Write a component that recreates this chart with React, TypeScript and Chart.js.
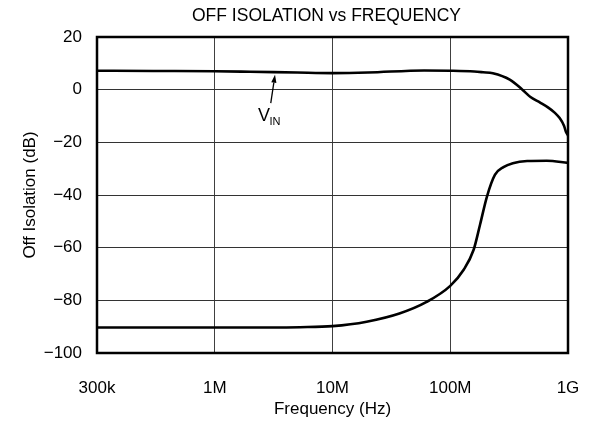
import React, { useEffect, useRef } from "react";
import { Chart, registerables } from "chart.js";

Chart.register(...registerables);

// ---- Data ----
const TITLE = "OFF ISOLATION vs FREQUENCY";
const X_TITLE = "Frequency (Hz)";
const Y_TITLE = "Off Isolation (dB)";

const X_TICKS = [1e5, 1e6, 1e7, 1e8, 1e9];
const X_TICK_LABELS = ["300k", "1M", "10M", "100M", "1G"];
const Y_MIN = -100;
const Y_MAX = 20;
const Y_STEP = 20;

// V_IN curve (upper)
const VIN_FREQ = [1e5, 3e5, 1e6, 2e6, 5e6, 1e7, 2e7, 6e7, 1e8, 1.6e8, 1.9e8, 2.3e8, 3.2e8, 4.1e8, 4.8e8, 5.8e8, 6.8e8, 7.7e8, 8.5e8, 9.25e8, 9.6e8, 1e9];
const VIN_DB = [7.2, 7.1, 7.0, 6.8, 6.5, 6.3, 6.5, 7.3, 7.2, 6.9, 6.6, 6.2, 3.8, 0, -2.8, -4.9, -6.8, -8.7, -10.8, -13.7, -16.0, -17.4];

// Off-isolation curve (lower)
const ISO_FREQ = [1e5, 1e6, 3e6, 5.3e6, 1e7, 1.95e7, 3.7e7, 6.3e7, 1e8, 1.3e8, 1.58e8, 1.79e8, 2.05e8, 2.4e8, 2.83e8, 3.4e8, 4.5e8, 6.6e8, 1e9];
const ISO_DB = [-90.3, -90.3, -90.3, -90.2, -89.8, -88.1, -85.0, -80.6, -74.5, -68.4, -60.8, -51.3, -40.6, -32.3, -29.4, -27.9, -27.1, -27.0, -27.8];

// Annotation (data coordinates)
const ARROW_TIP = { f: 3.25e6, db: 5.7 };
const ARROW_TAIL = { f: 2.99e6, db: -5.1 };
const LABEL_POS = { f: 2.33e6, db: -12.0 };
const LABEL_MAIN = "V";
const LABEL_SUB = "IN";

const FONT_FAMILY = "'Liberation Sans', Arial, Helvetica, sans-serif";
const FONT_SIZE = 17;
const TITLE_SIZE = 17.5;

const frameAndLabelPlugin = {
  id: "frameAndLabel",
  afterDatasetsDraw(chart: any) {
    const { ctx, chartArea, scales } = chart;
    const xs = scales.x;
    const ys = scales.y;
    ctx.save();
    // frame
    ctx.strokeStyle = "#000";
    ctx.lineWidth = 2.5;
    ctx.strokeRect(chartArea.left, chartArea.top, chartArea.right - chartArea.left, chartArea.bottom - chartArea.top);

    // title (centred slightly left of the plot centre, as in the original)
    ctx.fillStyle = "#000";
    ctx.font = `${TITLE_SIZE}px ${FONT_FAMILY}`;
    ctx.textAlign = "center";
    ctx.textBaseline = "middle";
    ctx.fillText(TITLE, (chartArea.left + chartArea.right) / 2 - 6, 16);

    // arrow
    const tx = xs.getPixelForValue(ARROW_TIP.f);
    const ty = ys.getPixelForValue(ARROW_TIP.db);
    const sx = xs.getPixelForValue(ARROW_TAIL.f);
    const sy = ys.getPixelForValue(ARROW_TAIL.db);
    const ang = Math.atan2(ty - sy, tx - sx);
    const headLen = 8;
    const headW = 2.6;
    const bx = tx - headLen * Math.cos(ang);
    const by = ty - headLen * Math.sin(ang);
    ctx.lineWidth = 1.3;
    ctx.beginPath();
    ctx.moveTo(sx, sy);
    ctx.lineTo(bx, by);
    ctx.stroke();
    ctx.beginPath();
    ctx.moveTo(tx, ty);
    ctx.lineTo(bx + headW * Math.sin(ang), by - headW * Math.cos(ang));
    ctx.lineTo(bx - headW * Math.sin(ang), by + headW * Math.cos(ang));
    ctx.closePath();
    ctx.fill();

    // label V_IN
    const lx = xs.getPixelForValue(LABEL_POS.f);
    const ly = ys.getPixelForValue(LABEL_POS.db);
    ctx.textAlign = "left";
    ctx.textBaseline = "alphabetic";
    ctx.font = `18px ${FONT_FAMILY}`;
    ctx.fillText(LABEL_MAIN, lx, ly);
    const w = ctx.measureText(LABEL_MAIN).width;
    ctx.font = `11px ${FONT_FAMILY}`;
    ctx.fillText(LABEL_SUB, lx + w - 0.5, ly + 4);
    ctx.restore();
  },
};

export default function App() {
  const canvasRef = useRef<HTMLCanvasElement | null>(null);

  useEffect(() => {
    const canvas = canvasRef.current;
    if (!canvas) return;
    const chart = new Chart(canvas, {
      type: "line",
      data: {
        datasets: [
          {
            label: "VIN",
            data: VIN_FREQ.map((f, i) => ({ x: f, y: VIN_DB[i] })),
            borderColor: "#000",
            borderWidth: 2.6,
            pointRadius: 0,
            fill: false,
            cubicInterpolationMode: "monotone",
          },
          {
            label: "Off Isolation",
            data: ISO_FREQ.map((f, i) => ({ x: f, y: ISO_DB[i] })),
            borderColor: "#000",
            borderWidth: 2.6,
            pointRadius: 0,
            fill: false,
            cubicInterpolationMode: "monotone",
          },
        ],
      },
      options: {
        animation: false,
        responsive: false,
        maintainAspectRatio: false,
        devicePixelRatio: 1,
        layout: { padding: { left: 0, right: 27, top: 37, bottom: 0 } },
        plugins: {
          legend: { display: false },
          tooltip: { enabled: false },
          title: { display: false },
        },
        scales: {
          x: {
            type: "logarithmic",
            min: X_TICKS[0],
            max: X_TICKS[X_TICKS.length - 1],
            afterBuildTicks: (scale: any) => {
              scale.ticks = X_TICKS.map((v) => ({ value: v }));
            },
            afterFit: (scale: any) => {
              scale.height = 73;
            },
            ticks: {
              autoSkip: false,
              maxRotation: 0,
              padding: 3,
              color: "#000",
              font: { family: FONT_FAMILY, size: FONT_SIZE },
              callback: (_v: any, i: number) => X_TICK_LABELS[i],
            },
            grid: { color: "#404040", lineWidth: 1, drawTicks: true, tickLength: 22, tickColor: "rgba(0,0,0,0)" },
            border: { display: false },
            title: {
              display: true,
              text: X_TITLE,
              color: "#000",
              font: { family: FONT_FAMILY, size: FONT_SIZE },
              padding: { top: 0, bottom: 6 },
            },
          },
          y: {
            type: "linear",
            min: Y_MIN,
            max: Y_MAX,
            afterFit: (scale: any) => {
              scale.width = 97;
            },
            ticks: {
              stepSize: Y_STEP,
              padding: 15,
              color: "#000",
              font: { family: FONT_FAMILY, size: FONT_SIZE },
              callback: (v: any) => (Number(v) < 0 ? "\u2212" + Math.abs(Number(v)) : String(v)),
            },
            grid: { color: "#333", lineWidth: 1, drawTicks: false },
            border: { display: false },
            title: {
              display: true,
              text: Y_TITLE,
              color: "#000",
              font: { family: FONT_FAMILY, size: FONT_SIZE },
              padding: { top: 20, bottom: 0 },
            },
          },
        },
      },
      plugins: [frameAndLabelPlugin],
    } as any);
    return () => chart.destroy();
  }, []);

  return (
    <div style={{ position: "absolute", left: 0, top: 0, width: 595, height: 426, background: "#fff" }}>
      <canvas ref={canvasRef} width={595} height={426} />
    </div>
  );
}
